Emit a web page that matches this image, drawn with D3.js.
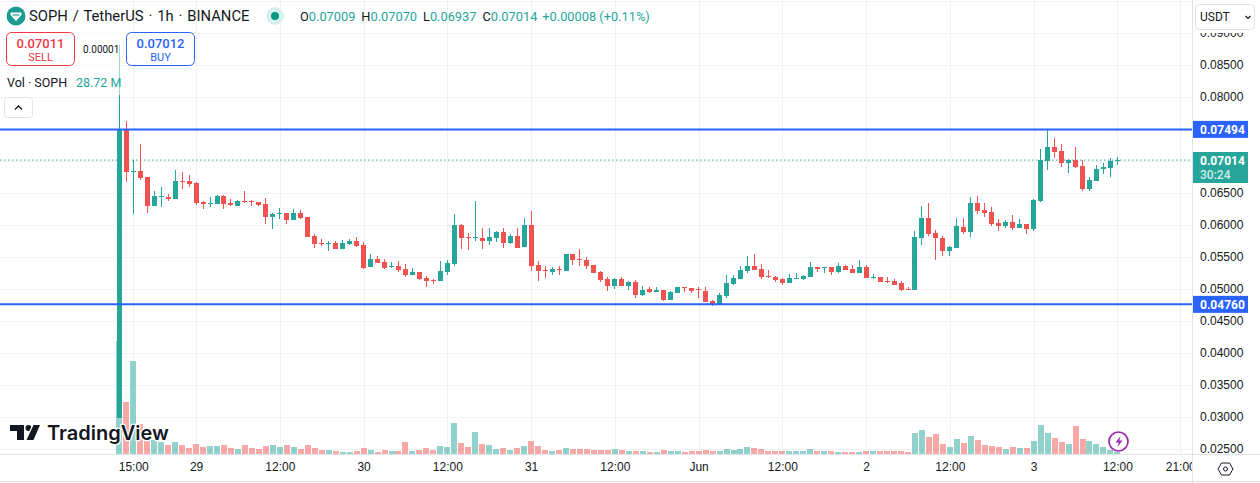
<!DOCTYPE html>
<html>
<head>
<meta charset="utf-8">
<script src="https://cdn.jsdelivr.net/npm/d3@7"></script>
<style>
    html, body { margin: 0; padding: 0; background: #fff; overflow: hidden; }
    svg { display: block; font-family: Roboto, "Noto Sans", sans-serif; }
    .price-axis text, .time-axis text { fill: #131722; font-size: 12px; }
</style>
</head>
<body>
<svg width="1260" height="483"></svg>
<script>
// SOPH / USDT hourly candles
const opens = [
    .02984,.07494,.06828,.06844,.06750,.06297,.06438,.06438,.06406,.06688,
    .06688,.06656,.06359,.06328,.06328,.06453,.06344,.06297,.06375,.06375,
    .06359,.06328,.06125,.06172,.06188,.06078,.06188,.06125,.05828,.05719,
    .05703,.05719,.05625,.05703,.05750,.05688,.05344,.05469,.05422,.05344,
    .05359,.05313,.05219,.05266,.05172,.05141,.05125,.05266,.05391,.06000,
    .05813,.05797,.05797,.05750,.05797,.05891,.05719,.05828,.05656,.06000,
    .05375,.05297,.05266,.05313,.05281,.05547,.05469,.05453,.05375,.05266,
    .05156,.05047,.05156,.05047,.05109,.04906,.05000,.04953,.04984,.04828,
    .04938,.05031,.05016,.05000,.04969,.04813,.04750,.04891,.05078,.05156,
    .05281,.05359,.05313,.05203,.05188,.05156,.05094,.05156,.05156,.05188,
    .05344,.05328,.05344,.05266,.05359,.05313,.05250,.05344,.05172,.05188,
    .05125,.05125,.05094,.05000,.04984,.05797,.06109,.05875,.05797,.05594,
    .05641,.05969,.05891,.06344,.06234,.06203,.06031,.05984,.06047,.05953,
    .06016,.05938,.06375,.07000,.07219,.07156,.06969,.07016,.06922,.06563,
    .06688,.06875,.06891,.07009
];
const highs = [
    .08813,.07625,.07016,.07266,.06750,.06531,.06594,.06484,.06859,.06828,
    .06781,.06672,.06375,.06438,.06469,.06469,.06406,.06391,.06531,.06391,
    .06359,.06422,.06188,.06266,.06188,.06250,.06234,.06125,.05859,.05781,
    .05750,.05750,.05766,.05781,.05813,.05734,.05547,.05516,.05469,.05422,
    .05438,.05391,.05328,.05266,.05203,.05156,.05438,.05453,.06172,.06016,
    .05875,.06375,.05953,.05953,.05906,.05953,.05859,.05953,.06109,.06219,
    .05438,.05359,.05344,.05359,.05547,.05547,.05625,.05500,.05375,.05281,
    .05188,.05172,.05188,.05125,.05141,.05047,.05031,.05031,.04984,.04969,
    .05031,.05031,.05016,.05031,.05031,.04828,.04938,.05219,.05219,.05359,
    .05516,.05547,.05391,.05297,.05203,.05172,.05234,.05250,.05219,.05422,
    .05344,.05344,.05344,.05406,.05375,.05375,.05453,.05375,.05234,.05188,
    .05188,.05156,.05125,.05031,.05906,.06297,.06344,.05922,.05828,.05672,
    .06109,.06109,.06438,.06453,.06344,.06281,.06094,.06078,.06156,.06094,
    .06016,.06406,.07188,.07494,.07359,.07266,.07031,.07219,.07016,.06750,
    .06938,.06969,.07047,.07070
];
const lows = [
    .02984,.06677,.06177,.06703,.06195,.06297,.06281,.06375,.06406,.06563,
    .06594,.06313,.06250,.06281,.06328,.06250,.06297,.06297,.06344,.06297,
    .06297,.06016,.05938,.06094,.06016,.06078,.06094,.05813,.05641,.05672,
    .05594,.05625,.05625,.05688,.05656,.05313,.05344,.05406,.05313,.05328,
    .05266,.05188,.05219,.05141,.05031,.05078,.05125,.05219,.05359,.05625,
    .05609,.05750,.05625,.05688,.05734,.05641,.05703,.05641,.05656,.05281,
    .05125,.05172,.05219,.05219,.05281,.05375,.05359,.05313,.05250,.05109,
    .04969,.05000,.05047,.04984,.04859,.04891,.04938,.04953,.04813,.04828,
    .04938,.04953,.04938,.04859,.04797,.04734,.04750,.04859,.05063,.05156,
    .05250,.05297,.05156,.05172,.05109,.05063,.05094,.05156,.05141,.05188,
    .05266,.05250,.05219,.05250,.05297,.05250,.05250,.05172,.05156,.05109,
    .05094,.05063,.04969,.04984,.04984,.05688,.05828,.05453,.05516,.05516,
    .05641,.05859,.05813,.06172,.06125,.05984,.05906,.05953,.05922,.05953,
    .05859,.05906,.06359,.06859,.07047,.06906,.06813,.06891,.06531,.06531,
    .06688,.06797,.06750,.06937
];
const closes = [
    .07494,.06817,.06844,.06739,.06297,.06453,.06453,.06406,.06688,.06672,
    .06641,.06344,.06328,.06344,.06453,.06328,.06313,.06375,.06359,.06359,
    .06313,.06125,.06172,.06188,.06078,.06188,.06109,.05813,.05703,.05703,
    .05719,.05625,.05719,.05750,.05672,.05328,.05469,.05406,.05328,.05359,
    .05297,.05219,.05266,.05156,.05125,.05125,.05281,.05406,.06000,.05797,
    .05797,.05813,.05750,.05813,.05891,.05719,.05828,.05641,.06000,.05359,
    .05281,.05281,.05313,.05297,.05547,.05453,.05453,.05359,.05250,.05141,
    .05047,.05156,.05047,.05109,.04906,.04984,.04953,.04984,.04828,.04953,
    .05031,.05016,.04969,.04984,.04797,.04750,.04906,.05094,.05172,.05297,
    .05359,.05297,.05188,.05188,.05141,.05094,.05172,.05172,.05203,.05344,
    .05313,.05344,.05266,.05359,.05297,.05250,.05344,.05172,.05188,.05109,
    .05109,.05063,.04984,.04984,.05813,.06109,.05859,.05797,.05594,.05656,
    .05984,.05891,.06344,.06219,.06188,.06016,.05984,.06047,.05953,.06016,
    .05938,.06391,.07016,.07219,.07141,.06969,.07016,.06906,.06563,.06703,
    .06875,.06906,.07006,.07014
];
// volume in millions
const volumes = [
    2147,988,1767,570,247,266,228,171,228,171,
    114,190,133,152,152,171,114,95,171,114,
    95,152,171,133,171,133,95,171,114,76,
    76,57,38,38,57,114,76,38,76,57,
    57,228,57,76,114,76,152,133,589,209,
    133,418,190,171,95,114,76,114,152,247,
    152,76,57,76,114,95,95,95,76,76,
    76,95,76,57,57,57,38,38,76,57,
    57,38,57,57,76,57,57,95,76,95,
    133,114,95,57,57,57,57,57,57,95,
    57,57,57,38,38,38,38,57,57,57,
    57,57,57,38,399,456,323,380,190,133,
    285,209,342,266,171,152,133,95,133,114,
    114,247,551,399,304,228,190,532,285,247,
    190,133,76,28.72
];

const gridPrices = [.095,.09,.085,.08,.075,.07,.065,.06,.055,.05,.045,.04,.035,.03,.025];
const priceTicks = [.09,.085,.08,.075,.07,.065,.06,.055,.05,.045,.04,.035,.03,.025];
const timeTicks = [2, 11, 23, 35, 47, 59, 71, 83, 95, 107, 119, 131, 143, 152];
const timeLabels = ["15:00","29","12:00","30","12:00","31","12:00","Jun","12:00","2","12:00","3","12:00","21:00"];
const levelPrices = [0.07494, 0.04760];
const lastPrice = 0.07014;

const GREEN = "#26a69a", RED = "#ef5350", BLUE = "#2962ff", BORDER = "#e0e3eb", TEXT = "#131722";
const paneRight = 1192, paneBottom = 454;

const svg = d3.select("svg");

const x = d3.scaleLinear().domain([0, 143]).range([119.3, 1117.4]);
const y = d3.scaleLinear().domain([0.085, 0.025]).range([65, 449]);
const yVol = d3.scaleLinear().domain([0, 2280]).range([paneBottom, paneBottom - 120]);

const defs = svg.append("defs");
defs.append("clipPath").attr("id", "pane").append("rect")
    .attr("width", paneRight).attr("height", paneBottom);
// these two are in the local space of the translated axis groups
defs.append("clipPath").attr("id", "timeClip").append("rect")
    .attr("width", paneRight).attr("height", 27);
defs.append("clipPath").attr("id", "priceClip").append("rect")
    .attr("y", 33).attr("width", 68).attr("height", paneBottom - 33);

// Grid
const grid = svg.append("g").attr("clip-path", "url(#pane)");
grid.append("g")
    .call(d3.axisRight(y).tickValues(gridPrices).tickSize(paneRight).tickFormat(""))
    .call(g => g.select(".domain").remove())
    .call(g => g.selectAll("line").attr("stroke", "#f3f3f4").attr("shape-rendering", "crispEdges"));
grid.append("g")
    .call(d3.axisBottom(x).tickValues(timeTicks).tickSize(paneBottom).tickFormat(""))
    .call(g => g.select(".domain").remove())
    .call(g => g.selectAll("line").attr("stroke", "#f0f1f3").attr("shape-rendering", "crispEdges"));

const pane = svg.append("g").attr("clip-path", "url(#pane)");
const indexes = d3.range(closes.length);
const up = i => closes[i] >= opens[i];

// Volume
pane.append("g").attr("shape-rendering", "crispEdges")
    .selectAll("rect").data(indexes).join("rect")
    .attr("x", i => Math.round(x(i) - 3))
    .attr("width", 6)
    .attr("y", i => yVol(volumes[i]))
    .attr("height", i => paneBottom - yVol(volumes[i]))
    .attr("fill", i => up(i) ? GREEN : RED)
    .attr("fill-opacity", 0.5);

// Price lines
pane.append("line")
    .attr("x1", 0).attr("x2", paneRight)
    .attr("y1", y(lastPrice)).attr("y2", y(lastPrice))
    .attr("stroke", GREEN).attr("stroke-dasharray", "1.5 2.5");

// Candles
const candle = pane.append("g").attr("shape-rendering", "crispEdges")
    .selectAll("g").data(indexes).join("g")
    .attr("fill", i => up(i) ? GREEN : RED);
candle.append("rect")
    .attr("x", i => Math.round(x(i) - 2.5) + 2)
    .attr("width", 1)
    .attr("y", i => y(highs[i]))
    .attr("height", i => y(lows[i]) - y(highs[i]));
candle.append("rect")
    .attr("x", i => Math.round(x(i) - 2.5))
    .attr("width", 5)
    .attr("y", i => Math.round(y(Math.max(opens[i], closes[i]))))
    .attr("height", i => Math.max(1, Math.round(Math.abs(y(opens[i]) - y(closes[i])))));

pane.selectAll(".level").data(levelPrices).join("line")
    .attr("class", "level")
    .attr("x1", 0).attr("x2", paneRight)
    .attr("y1", d => y(d)).attr("y2", d => y(d))
    .attr("stroke", BLUE).attr("stroke-width", 2);

// Legend sits on a half transparent backdrop, which fades the first wick
svg.append("rect").attr("x", 4).attr("y", 30).attr("width", 118).attr("height", 65)
    .attr("fill", "#fff").attr("fill-opacity", 0.55);

// Price axis
svg.append("g").attr("class", "price-axis")
    .attr("clip-path", "url(#priceClip)")
    .attr("transform", `translate(${paneRight},0)`)
    .call(d3.axisRight(y).tickValues(priceTicks).tickSize(0).tickPadding(8).tickFormat(d3.format(".5f")))
    .call(g => g.select(".domain").remove());

// Time axis
svg.append("g").attr("class", "time-axis")
    .attr("clip-path", "url(#timeClip)")
    .attr("transform", `translate(0,${paneBottom})`)
    .call(d3.axisBottom(x).tickValues(timeTicks).tickSize(0).tickPadding(8)
        .tickFormat((d, i) => timeLabels[i]))
    .call(g => g.select(".domain").remove())
    .call(g => g.selectAll("text").attr("font-weight", (d, i) => timeLabels[i] === "Jun" ? 500 : 400));

// Frame
[[paneRight + 0.5, 0, paneRight + 0.5, 483], [0, paneBottom + 0.5, 1260, paneBottom + 0.5], [0, 481.5, 1260, 481.5]]
    .forEach(l => svg.append("line")
        .attr("x1", l[0]).attr("y1", l[1]).attr("x2", l[2]).attr("y2", l[3])
        .attr("stroke", BORDER));

// Price labels
const priceTag = svg.append("g");
priceTag.append("rect").attr("x", paneRight + 1).attr("y", y(levelPrices[0]) - 8.5)
    .attr("width", 55).attr("height", 17).attr("fill", BLUE);
priceTag.append("text").attr("x", 1200).attr("y", y(levelPrices[0]) + 4.3)
    .attr("fill", "#fff").attr("font-size", 12).attr("font-weight", 700)
    .text(d3.format(".5f")(levelPrices[0]));
priceTag.append("rect").attr("x", paneRight + 1).attr("y", y(levelPrices[1]) - 8.5)
    .attr("width", 55).attr("height", 17).attr("fill", BLUE);
priceTag.append("text").attr("x", 1200).attr("y", y(levelPrices[1]) + 4.3)
    .attr("fill", "#fff").attr("font-size", 12).attr("font-weight", 700)
    .text(d3.format(".5f")(levelPrices[1]));
priceTag.append("rect").attr("x", paneRight + 1).attr("y", 152)
    .attr("width", 55).attr("height", 31).attr("fill", GREEN);
priceTag.append("text").attr("x", 1200).attr("y", 165)
    .attr("fill", "#fff").attr("font-size", 12).attr("font-weight", 700)
    .text(d3.format(".5f")(lastPrice));
priceTag.append("text").attr("x", 1200).attr("y", 179)
    .attr("fill", "#fff").attr("fill-opacity", 0.8).attr("font-size", 12).attr("font-weight", 500)
    .text("30:24");

// Currency button
svg.append("rect").attr("x", 1195.5).attr("y", 4.5).attr("width", 59).attr("height", 25).attr("rx", 4)
    .attr("fill", "#fff").attr("stroke", BORDER);
svg.append("text").attr("x", 1200).attr("y", 21).attr("fill", TEXT).attr("font-size", 12).text("USDT");
svg.append("path").attr("d", "M1245.5 16l2.5 2.5 2.5-2.5").attr("fill", "none").attr("stroke", TEXT).attr("stroke-width", 1.2);

// Header
svg.append("circle").attr("cx", 16).attr("cy", 16).attr("r", 9.5).attr("fill", "#1a9c8e");
svg.append("path").attr("d", "M10.5 12.5h11v2.5l-5.5 6-5.5-6z").attr("fill", "#fff");
svg.append("path").attr("d", "M12.5 15h7").attr("stroke", "#1a9c8e").attr("stroke-width", 1.2);
svg.append("text").attr("x", 29).attr("y", 21).attr("font-size", 14.8).attr("word-spacing", 1.2).attr("fill", TEXT)
    .text("SOPH / TetherUS · 1h · BINANCE");
svg.append("circle").attr("cx", 275).attr("cy", 16).attr("r", 9).attr("fill", "#dbf0ee");
svg.append("circle").attr("cx", 275).attr("cy", 16).attr("r", 4).attr("fill", "#089981");

const ohlc = svg.append("text").attr("x", 300).attr("y", 21).attr("font-size", 12.8);
[["O", "0.07009"], ["H", "0.07070"], ["L", "0.06937"], ["C", "0.07014"]].forEach((d, i) => {
    ohlc.append("tspan").attr("dx", i ? 6 : 0).attr("fill", TEXT).text(d[0]);
    ohlc.append("tspan").attr("fill", GREEN).text(d[1]);
});
ohlc.append("tspan").attr("dx", 5).attr("fill", GREEN).text("+0.00008 (+0.11%)");

// Sell and buy buttons
[[6.5, "0.07011", "SELL", "#f23645"], [126.5, "0.07012", "BUY", BLUE]].forEach(b => {
    svg.append("rect").attr("x", b[0]).attr("y", 32.5).attr("width", 68).attr("height", 33).attr("rx", 5)
        .attr("fill", "#fff").attr("stroke", b[3]);
    svg.append("text").attr("x", b[0] + 34).attr("y", 48).attr("text-anchor", "middle")
        .attr("font-size", 13).attr("font-weight", 500).attr("fill", b[3]).text(b[1]);
    svg.append("text").attr("x", b[0] + 34).attr("y", 61).attr("text-anchor", "middle")
        .attr("font-size", 11).attr("fill", b[3]).text(b[2]);
});
svg.append("text").attr("x", 83).attr("y", 53).attr("font-size", 10).attr("fill", TEXT).text("0.00001");

// Volume legend
svg.append("text").attr("x", 7).attr("y", 87).attr("font-size", 12.5).attr("fill", TEXT).text("Vol · SOPH");
svg.append("text").attr("x", 76).attr("y", 87).attr("font-size", 12.5).attr("fill", GREEN).text("28.72 M");
svg.append("rect").attr("x", 4.5).attr("y", 97.5).attr("width", 28).attr("height", 20).attr("rx", 3)
    .attr("fill", "#fff").attr("stroke", BORDER);
svg.append("path").attr("d", "M15 109.5l3.5-3.5 3.5 3.5").attr("fill", "none").attr("stroke", TEXT).attr("stroke-width", 1.3);

// Watermark
const mark = svg.append("g").attr("fill", "#131722").attr("stroke", "#fff").attr("stroke-width", 2.5)
    .attr("paint-order", "stroke").attr("stroke-linejoin", "round");
mark.append("path").attr("d", "M10 425h14v15h-7v-9h-7z");
mark.append("circle").attr("cx", 28.5).attr("cy", 428).attr("r", 3);
mark.append("path").attr("d", "M33.5 425h6.5l-6.5 15h-7z");
mark.append("text").attr("x", 47).attr("y", 440).attr("font-family", "Inter")
    .attr("font-size", 20).attr("font-weight", 600).text("TradingView");

// Flash icon
svg.append("circle").attr("cx", 1118.5).attr("cy", 441.5).attr("r", 9.5)
    .attr("fill", "#fff").attr("stroke", "#9c27b0").attr("stroke-width", 1.7);
svg.append("path").attr("d", "M1120.5 436l-5 6.5h3.2l-1.2 4.5 5-6.5h-3.2z").attr("fill", "#9c27b0");

// Settings icon
svg.append("path").attr("d", "M1218 469l3.5-6h8l3.5 6-3.5 6h-8z").attr("fill", "none").attr("stroke", TEXT);
svg.append("circle").attr("cx", 1225.5).attr("cy", 469).attr("r", 2).attr("fill", "none").attr("stroke", TEXT);
</script>
</body>
</html>
